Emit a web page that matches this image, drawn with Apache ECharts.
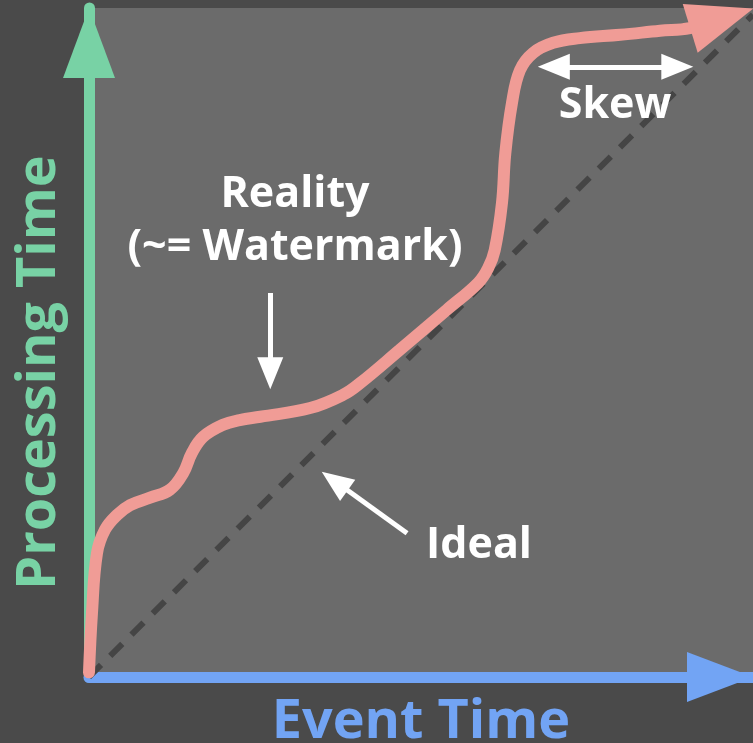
<!DOCTYPE html>
<html>
<head>
<meta charset="utf-8">
<script src="https://cdn.jsdelivr.net/npm/echarts@6/dist/echarts.min.js"></script>
<style>
  html, body { margin: 0; padding: 0; background: #4a4a4a; }
  #chart { width: 753px; height: 743px; }
</style>
</head>
<body>
<div id="chart"></div>
<script>
// reality curve (~= watermark), 0..100 on both axes
const realityEvent = [0, 0.45, 1.2, 2.4, 4.2, 6.2, 9.2, 12.2, 14.2, 15.5, 17.2, 20.2, 22.7, 25.8, 33.3, 38.3, 40.8, 46.8, 53.9, 58.6, 60.1, 61.1, 62.2, 62.7, 63.7, 64.9, 66.9, 69.9, 73.9, 80.0, 86.0, 90.5, 95.3];
const realityProc = [0.7, 9.6, 18.5, 22.0, 24.2, 25.7, 26.8, 28.0, 30.5, 33.5, 35.9, 37.7, 38.4, 38.9, 40.2, 42.2, 43.9, 48.9, 54.9, 58.9, 61.1, 63.8, 70.9, 78.3, 85.8, 90.7, 93.3, 94.8, 95.5, 96.0, 96.6, 97.0, 98.4];

// ideal line: event time == processing time
const idealEvent = [0, 100];
const idealProc = [0, 99];

// annotation arrows [fromX, fromY, toX, toY]
const realityArrow = [27.3, 57.4, 27.3, 45.4];
const idealArrow = [47.9, 21.5, 37.0, 29.3];
const skewArrow = [70.0, 91.2, 88.6, 91.2];

const PINK = '#f09c96';
const GREEN = '#78d2a5';
const BLUE = '#72a4f4';
const FONT = '"Open Sans"';

const chart = echarts.init(document.getElementById('chart'));

const zip = (xs, ys) => xs.map((x, i) => [x, ys[i]]);
const last = realityEvent.length - 1;

// plain triangles
const headX = 'path://M25,0L50,66L0,66Z';
const headY = 'path://M26,0L52,70L0,70Z';
const headCurve = 'path://M25,0L51,66L0,66Z';

const arrowPair = (a, both) => [
  {coord: [a[0], a[1]], symbol: both ? 'triangle' : 'none'},
  {coord: [a[2], a[3]], symbol: 'triangle'}
];

const option = {
  backgroundColor: '#4a4a4a',
  animation: false,
  grid: {
    left: 89, right: 0, top: 8, bottom: 66,
    outerBoundsMode: 'none',
    containLabel: false,
    show: true,
    backgroundColor: '#6b6b6b',
    borderWidth: 0
  },
  xAxis: {
    type: 'value', min: 0, max: 100,
    name: 'Event Time',
    nameLocation: 'middle',
    nameGap: 19,
    nameTextStyle: {color: BLUE, fontSize: 54, fontWeight: 'bold', fontFamily: FONT},
    axisLine: {
      show: true, onZero: false,
      symbol: ['none', headX],
      symbolSize: [50, 66],
      symbolOffset: [0, -33],
      lineStyle: {color: BLUE, width: 11}
    },
    axisTick: {show: false},
    axisLabel: {show: false},
    splitLine: {show: false}
  },
  yAxis: {
    type: 'value', min: 0, max: 100,
    name: 'Processing Time',
    nameLocation: 'middle',
    nameGap: 22,
    nameRotate: 90,
    nameTextStyle: {color: GREEN, fontSize: 54, fontWeight: 'bold', fontFamily: FONT, padding: [0, 60, 0, 0]},
    axisLine: {
      show: true, onZero: false,
      symbol: ['none', headY],
      symbolSize: [52, 70],
      symbolOffset: [0, -35],
      lineStyle: {color: GREEN, width: 11}
    },
    axisTick: {show: false},
    axisLabel: {show: false},
    splitLine: {show: false}
  },
  series: [
    {
      name: 'Ideal',
      type: 'line',
      data: zip(idealEvent, idealProc),
      symbol: 'none',
      lineStyle: {color: '#454545', width: 6, type: [17, 13]},
      z: 2,
      markLine: {
        silent: true,
        symbol: ['none', 'triangle'],
        symbolSize: [26, 32],
        label: {show: false},
        lineStyle: {color: '#ffffff', width: 5, type: 'solid'},
        data: [
          arrowPair(realityArrow, false),
          arrowPair(idealArrow, false),
          arrowPair(skewArrow, true)
        ]
      }
    },
    {
      name: 'Reality',
      type: 'line',
      data: zip(realityEvent, realityProc),
      smooth: 0.4,
      symbol: 'none',
      clip: false,
      lineStyle: {color: PINK, width: 12, cap: 'round'},
      z: 3,
      // arrow head at the end of the reality curve
      markPoint: {
        silent: true,
        symbol: headCurve,
        symbolSize: [51, 66],
        symbolRotate: -73,
        itemStyle: {color: PINK, opacity: 1},
        label: {show: false},
        data: [{coord: [realityEvent[last], realityProc[last]]}]
      }
    }
  ],
  graphic: [
    {
      type: 'text', x: 295, y: 221, z: 10,
      style: {
        text: 'Reality\n(~= Watermark)',
        fill: '#ffffff', fontSize: 43, fontWeight: 'bold', fontFamily: FONT,
        lineHeight: 53, align: 'center', verticalAlign: 'middle'
      }
    },
    {
      type: 'text', x: 479, y: 546, z: 10,
      style: {
        text: 'Ideal', fill: '#ffffff', fontSize: 43, fontWeight: 'bold', fontFamily: FONT,
        align: 'center', verticalAlign: 'middle'
      }
    },
    {
      type: 'text', x: 615, y: 106, z: 10,
      style: {
        text: 'Skew', fill: '#ffffff', fontSize: 43, fontWeight: 'bold', fontFamily: FONT,
        align: 'center', verticalAlign: 'middle'
      }
    }
  ]
};

chart.setOption(option);
</script>
</body>
</html>
